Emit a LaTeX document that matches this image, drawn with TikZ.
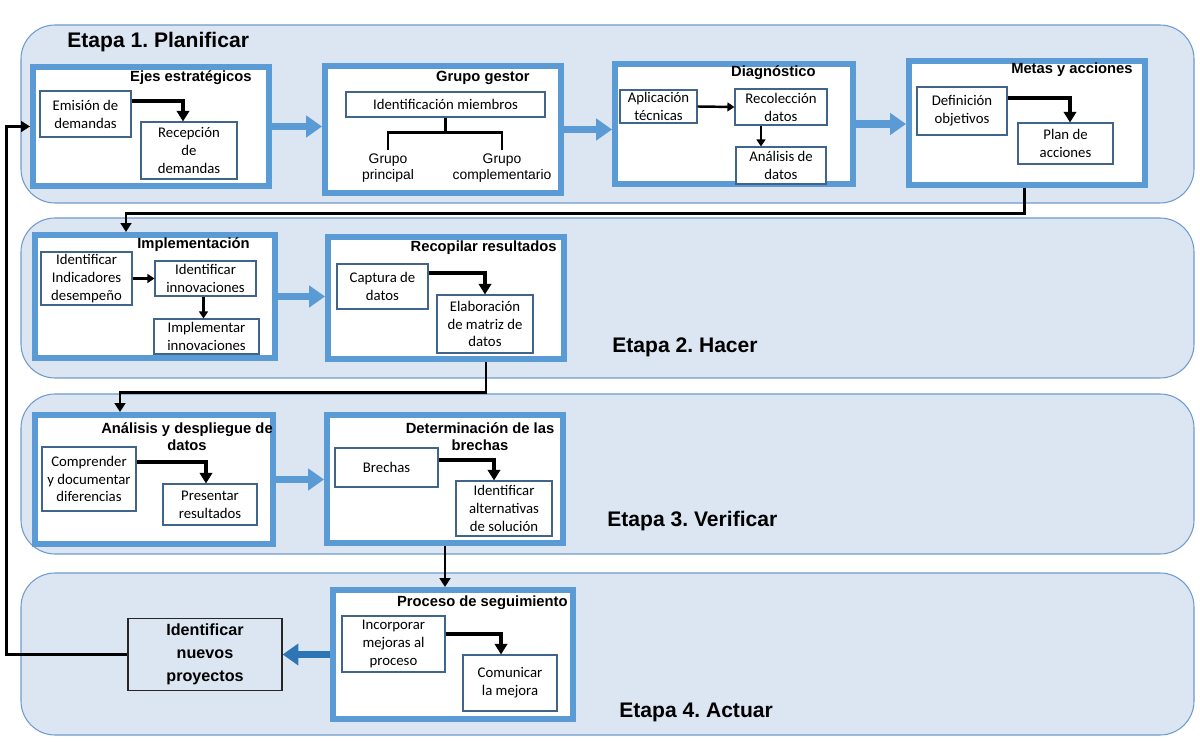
\documentclass[tikz,border=0pt]{standalone}
\usepackage{fontspec}
\setmainfont{Carlito}
\newfontfamily\arialfont{Liberation Sans}
\usetikzlibrary{arrows.meta}
\frenchspacing
\newlength{\px}
\setlength{\px}{0.02cm}
\definecolor{bandfill}{RGB}{220,230,242}
\definecolor{bandline}{RGB}{110,155,205}
\definecolor{boxblue}{RGB}{91,155,213}
\definecolor{darkblue}{RGB}{46,117,182}
\definecolor{cellline}{RGB}{65,100,140}

\begin{document}
\begin{tikzpicture}[x=0.02cm, y=-0.02cm,
    band/.style={draw=bandline, fill=bandfill, line width=0.6pt, rounded corners=34\px},
    outer/.style={draw=boxblue, fill=white, line width=3.4pt},
    cell/.style={draw=cellline, fill=white, line width=0.6pt, align=center, inner sep=1pt,
      font=\fontsize{8.4}{10.2}\selectfont},
    ttl/.style={inner sep=0pt, align=center, font=\arialfont\bfseries\fontsize{8.4}{9.6}\selectfont},
    etapa/.style={inner sep=0pt, anchor=west, font=\arialfont\bfseries\fontsize{12}{14}\selectfont},
    lbl/.style={inner sep=2pt, align=center, font=\arialfont\fontsize{7.9}{9}\selectfont},
    flow/.style={boxblue, line width=4.5pt, -{Triangle[length=9pt,width=12pt]}},
    elbow/.style={line width=2.3pt, -{Triangle[length=6pt,width=7pt]}},
    shortarr/.style={line width=1.4pt, -{Triangle[length=4pt,width=5pt]}},
    link/.style={line width=1.7pt, -{Triangle[length=5pt,width=6pt]}},
    tree/.style={line width=1.7pt}]
    \useasboundingbox (0,0) rectangle (1200,742);
    \foreach \ya/\yb in {25/203, 218/378, 394/554, 573/735}
      \draw[band] (21,\ya) rectangle (1194,\yb);
    \node[etapa] (etapa1) at (67,42) {Etapa 1. Planificar};
    \node[etapa] (etapa2) at (612,347) {Etapa 2. Hacer};
    \node[etapa] (etapa3) at (607,521) {Etapa 3. Verificar};
    \node[etapa] (etapa4) at (619,712) {Etapa 4. Actuar};

    \node[outer, minimum width=236\px, minimum height=119\px] (ejes) at (151,126.5) {};
    \node[outer, minimum width=236\px, minimum height=127\px] (gestor) at (443,129.5) {};
    \node[outer, minimum width=238\px, minimum height=120\px] (diag) at (734,124) {};
    \node[outer, minimum width=236\px, minimum height=124\px] (metas) at (1027,123) {};
    \node[outer, minimum width=240\px, minimum height=123\px] (impl) at (155,296.5) {};
    \node[outer, minimum width=236\px, minimum height=122\px] (recop) at (446,298) {};
    \node[outer, minimum width=238\px, minimum height=129\px] (anal) at (154,479.5) {};
    \node[outer, minimum width=236\px, minimum height=128\px] (brechas) at (445,479) {};
    \node[outer, minimum width=240\px, minimum height=129\px] (seguim) at (453,654.5) {};

    \node[ttl, anchor=east] (ejesT) at (252,78) {Ejes estratégicos};
    \node[ttl, anchor=east] (gestorT) at (530,78) {Grupo gestor};
    \node[ttl, anchor=east] (diagT) at (816,73) {Diagnóstico};
    \node[ttl, anchor=east] (metasT) at (1133,70) {Metas y acciones};
    \node[ttl, anchor=east] (implT) at (250,245) {Implementación};
    \node[ttl, anchor=east] (recopT) at (557,248) {Recopilar resultados};
    \node[ttl] (analT) at (187,437) {Análisis y despliegue de\\datos};
    \node[ttl] (brechasT) at (480,437) {Determinación de las\\brechas};
    \node[ttl, anchor=east] (seguimT) at (568,603) {Proceso de seguimiento};

    \node[cell, minimum width=91\px, minimum height=46\px] (emision) at (85.5,114) {Emisión de\\demandas};
    \node[cell, minimum width=96\px, minimum height=57\px] (recepcion) at (189,150.5) {Recepción\\de\\demandas};
    \node[cell, minimum width=199\px, minimum height=25\px] (identif) at (445.5,104.5) {Identificación miembros};
    \node[lbl, anchor=north] (princ) at (388,150) {Grupo\\principal};
    \node[lbl, anchor=north] (compl) at (502,150) {Grupo\\complementario};
    \node[cell, minimum width=77\px, minimum height=33\px] (aplic) at (658.5,106.5) {Aplicación\\técnicas};
    \node[cell, minimum width=92\px, minimum height=36\px] (recol) at (781,107) {Recolección\\datos};
    \node[cell, minimum width=90\px, minimum height=37\px] (analis) at (781,165.5) {Análisis de\\datos};
    \node[cell, minimum width=90\px, minimum height=48\px] (defin) at (962,111) {Definición\\objetivos};
    \node[cell, minimum width=95\px, minimum height=41\px] (plan) at (1065.5,143.5) {Plan de\\acciones};
    \node[cell, minimum width=91\px, minimum height=53\px] (indic) at (86.5,278.5) {Identificar\\Indicadores\\desempeño};
    \node[cell, minimum width=101\px, minimum height=35\px] (innov) at (205.5,278.5) {Identificar\\innovaciones};
    \node[cell, minimum width=105\px, minimum height=35\px] (implem) at (206.5,336.5) {Implementar\\innovaciones};
    \node[cell, minimum width=91\px, minimum height=45\px] (captura) at (382.5,286.5) {Captura de\\datos};
    \node[cell, minimum width=96\px, minimum height=58\px] (elabor) at (485,324) {Elaboración\\de matriz de\\datos};
    \node[cell, minimum width=94\px, minimum height=64\px] (compr) at (89,479) {Comprender\\y documentar\\diferencias};
    \node[cell, minimum width=94\px, minimum height=41\px] (present) at (210,504.5) {Presentar\\resultados};
    \node[cell, minimum width=103\px, minimum height=39\px] (brecha) at (386.5,467.5) {Brechas};
    \node[cell, minimum width=96\px, minimum height=55\px] (altern) at (504,508.5) {Identificar\\alternativas\\de solución};
    \node[cell, minimum width=103\px, minimum height=56\px] (incorp) at (393.5,644) {Incorporar\\mejoras al\\proceso};
    \node[cell, minimum width=94\px, minimum height=56\px] (comun) at (510,683) {Comunicar\\la mejora};
    \node[draw=black!85, fill=bandfill, line width=0.7pt, minimum width=154\px, minimum height=71\px,
      align=center, font=\arialfont\bfseries\fontsize{9.2}{13}\selectfont] (nuevos) at (205,654.5)
      {Identificar\\nuevos\\proyectos};

    \coordinate (split) at (445.5,133);
    \draw[tree] (identif.south) -- (split);
    \draw[tree] (princ.north) |- (split) -| (compl.north);

    \draw[elbow] ([yshift=13\px]emision.east) -| ([xshift=-6\px]recepcion.north);
    \draw[elbow] ([yshift=13\px]defin.east) -| ([xshift=4.5\px]plan.north);
    \draw[elbow] ([yshift=13.5\px]captura.east) -| (elabor.north);
    \draw[elbow] ([yshift=17\px]compr.east) -| ([xshift=-4\px]present.north);
    \draw[elbow] ([yshift=7.5\px]brecha.east) -| ([xshift=-10\px]altern.north);
    \draw[elbow] ([yshift=10\px]incorp.east) -| ([xshift=-9\px]comun.north);

    \draw[shortarr] (aplic.east) -- (recol.west);
    \draw[shortarr] ([xshift=-20\px]recol.south) -- ([xshift=-20\px]analis.north);
    \draw[shortarr] (indic.east) -- (innov.west);
    \draw[shortarr] ([xshift=-2\px]innov.south) -- ([xshift=-3\px]implem.north);

    \draw[flow] (ejes.east) -- (ejes.east -| gestor.west);
    \draw[flow] (gestor.east) -- (gestor.east -| diag.west);
    \draw[flow] (diag.east) -- (diag.east -| metas.west);
    \draw[flow] (impl.east) -- (impl.east -| recop.west);
    \draw[flow] (anal.east) -- (anal.east -| brechas.west);
    \draw[flow, darkblue] (seguim.west) -- (nuevos.east);

    \draw[link] ([xshift=-3\px]metas.south) -- ++(0,26) -| ([xshift=-29\px]impl.north);
    \draw[link] ([xshift=40\px]recop.south) -- ++(0,31) -| ([xshift=-34\px]anal.north);
    \draw[link] (brechas.south) -- (brechas.south |- seguim.north);
    \draw[link] (nuevos.west) -- ++(-121,0) |- (ejes.west);
\end{tikzpicture}
\end{document}
